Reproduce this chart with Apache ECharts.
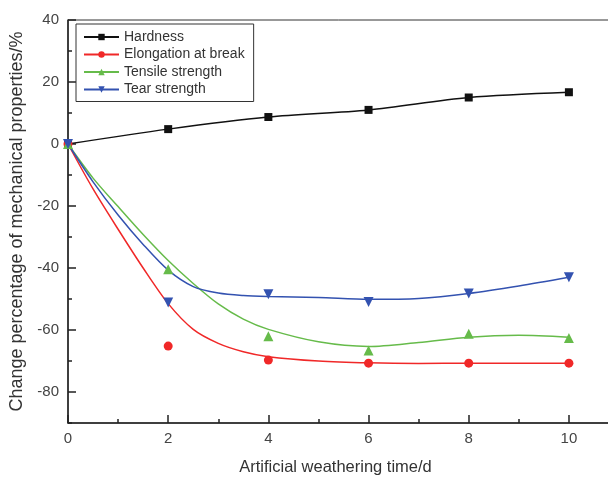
<!DOCTYPE html>
<html>
<head>
<meta charset="utf-8">
<script src="https://cdn.jsdelivr.net/npm/echarts@6/dist/echarts.min.js"></script>
<style>html,body{margin:0;padding:0;background:#fff}#c{width:608px;height:478px}</style>
</head>
<body>
<div id="c"></div>
<script>
// measured points
const days = [0, 2, 4, 6, 8, 10];
const hardness = [0, 4.8, 8.7, 11.0, 15.0, 16.7];
const elongation = [0, -65.2, -69.7, -70.7, -70.7, -70.7];
const tensile = [0, -40.4, -62.0, -66.6, -61.2, -62.6];
const tear = [0, -51.1, -48.5, -51.0, -48.2, -43.0];
// fitted curves
const fitDays = [0, 0.5, 1, 1.5, 2, 2.5, 3, 3.5, 4, 5, 6, 7, 8, 9, 10];
const elongationFit = [0, -14.5, -27.5, -40.0, -51.5, -59.8, -64.3, -67.0, -68.6, -70.0, -70.6, -70.8, -70.7, -70.7, -70.7];
const tensileFit = [0, -11.0, -20.2, -29.2, -37.6, -45.0, -51.6, -56.5, -59.8, -63.8, -65.3, -64.0, -62.3, -61.7, -62.3];
const tearFit = [0, -12.2, -22.9, -32.4, -40.7, -46.0, -48.1, -48.9, -49.2, -49.5, -50.1, -49.8, -48.2, -45.8, -43.0];
const yLabels = [-80, -60, -40, -20, 0, 20, 40];
const names = ['Hardness', 'Elongation at break', 'Tensile strength', 'Tear strength'];

const colors = ['#111111', '#f02828', '#66bb4a', '#3352b0'];
const symbols = ['rect', 'circle', 'triangle', 'triangle'];
const rotates = [0, 0, 0, 180];
const sizes = [8, 9, 10, 10];
const pts = [hardness, elongation, tensile, tear];
const fits = [hardness, elongationFit, tensileFit, tearFit];
const fitX = [days, fitDays, fitDays, fitDays];
const pair = (xs, ys) => xs.map((x, i) => [x, ys[i]]);

const series = [];
for (let k = 0; k < 4; k++) {
  series.push({
    type: 'line', name: names[k], data: pair(fitX[k], fits[k]),
    smooth: 0.3, showSymbol: false,
    symbol: symbols[k], symbolRotate: rotates[k], symbolSize: sizes[k],
    lineStyle: { color: colors[k], width: 1.5 }, itemStyle: { color: colors[k] },
    silent: true, z: 2
  });
}
for (let k = 0; k < 4; k++) {
  series.push({
    type: 'scatter', name: names[k], data: pair(days, pts[k]),
    symbol: symbols[k], symbolRotate: rotates[k], symbolSize: sizes[k],
    itemStyle: { color: colors[k], opacity: 1 }, z: 3
  });
}

const font = 'Liberation Sans, Arial, sans-serif';
const chart = echarts.init(document.getElementById('c'), null, { renderer: 'canvas' });
chart.setOption({
  animation: false,
  backgroundColor: '#fff',
  grid: { left: 68, top: 20, right: -11, bottom: 55, outerBoundsMode: 'none', containLabel: false,
    show: true, borderColor: '#333', borderWidth: 1, backgroundColor: 'transparent' },
  legend: {
    data: names, left: 76, top: 24, orient: 'vertical',
    itemWidth: 35, itemHeight: 8, itemGap: 1.5,
    padding: [5, 9, 4, 7],
    borderColor: '#333', borderWidth: 1,
    textStyle: { fontFamily: font, fontSize: 14, color: '#333', lineHeight: 16 },
    selectedMode: false
  },
  xAxis: {
    type: 'value', min: 0, max: 11, interval: 2,
    name: 'Artificial weathering time/d', nameLocation: 'middle', nameGap: 36,
    nameTextStyle: { fontFamily: font, fontSize: 16.5, color: '#333', padding: [0, 16, 0, 0] },
    axisLine: { show: true, onZero: false, lineStyle: { color: '#222', width: 1.5 } },
    axisTick: { show: true, inside: true, length: 8, lineStyle: { color: '#222', width: 1.5 } },
    minorTick: { show: true, splitNumber: 2, length: 4, lineStyle: { color: '#222', width: 1.5 } },
    axisLabel: { fontFamily: font, fontSize: 15, color: '#444', margin: 8,
      formatter: v => (v <= 10 ? String(v) : '') },
    splitLine: { show: false }
  },
  yAxis: [{
    type: 'value', min: -90, max: 40, interval: 10, position: 'left',
    name: 'Change percentage of mechanical properties/%', nameLocation: 'middle', nameGap: 41,
    nameTextStyle: { fontFamily: font, fontSize: 18, color: '#333' },
    axisLine: { show: true, onZero: false, lineStyle: { color: '#222', width: 1.5 } },
    axisTick: { show: true, inside: true, length: 4, lineStyle: { color: '#222', width: 1.5 } },
    axisLabel: { fontFamily: font, fontSize: 15, color: '#444', margin: 9,
      formatter: v => (yLabels.indexOf(v) >= 0 ? String(v) : '') },
    splitLine: { show: false }
  }, {
    type: 'value', min: -90, max: 40, position: 'left', offset: 0,
    axisLine: { show: false },
    axisTick: { show: true, inside: true, length: 8, customValues: yLabels, lineStyle: { color: '#222', width: 1.5 } },
    axisLabel: { show: false },
    splitLine: { show: false }
  }],
  series: series
});
</script>
</body>
</html>
